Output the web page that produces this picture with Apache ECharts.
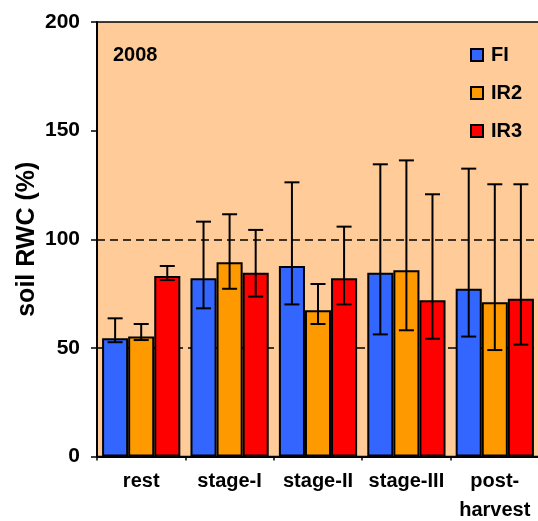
<!DOCTYPE html>
<html>
<head>
<meta charset="utf-8">
<script src="https://cdn.jsdelivr.net/npm/echarts@6/dist/echarts.min.js"></script>
<style>
html,body{margin:0;padding:0;background:#fff;}
#c{width:538px;height:521px;}
</style>
</head>
<body>
<div id="c"></div>
<script>
var categories = ['rest', 'stage-I', 'stage-II', 'stage-III', 'post-\nharvest'];
var seriesNames = ['FI', 'IR2', 'IR3'];
var FI = [54.4, 82.0, 87.7, 84.6, 77.2];
var IR2 = [55.2, 89.4, 67.3, 85.7, 71.0];
var IR3 = [83.1, 84.6, 82.0, 71.9, 72.6];
var FI_upper = [63.6, 108.1, 126.2, 134.5, 132.5];
var FI_lower = [52.6, 68.2, 70.0, 56.2, 55.2];
var IR2_upper = [61.0, 111.5, 79.4, 136.3, 125.3];
var IR2_lower = [53.6, 77.2, 61.0, 58.1, 49.0];
var IR3_upper = [87.7, 104.3, 105.8, 120.7, 125.3];
var IR3_lower = [81.2, 73.6, 70.0, 54.2, 51.5];
var refLines = [50, 100];
var yTicks = [0, 50, 100, 150, 200];
var yearLabel = '2008';

var colors = ['#3366FF', '#FF9900', '#FF0000'];
var values = [FI, IR2, IR3];
var uppers = [FI_upper, IR2_upper, IR3_upper];
var lowers = [FI_lower, IR2_lower, IR3_lower];
var BAR_FRAC = 0.295;
var FONT = 'Liberation Sans, Arial, sans-serif';

var chart = echarts.init(document.getElementById('c'));
var series = [];
seriesNames.forEach(function (name, i) {
  series.push({
    name: name,
    type: 'bar',
    data: values[i],
    barWidth: (BAR_FRAC * 100) + '%',
    barGap: '0%',
    z: 2,
    itemStyle: { color: colors[i], borderColor: '#000', borderWidth: 2 },
    markLine: i === 0 ? {
      silent: true,
      z: 1,
      symbol: 'none',
      label: { show: false },
      lineStyle: { color: '#000', type: [8, 5], width: 1.5 },
      data: refLines.map(function (v) { return { yAxis: v }; })
    } : undefined
  });
});
seriesNames.forEach(function (name, i) {
  series.push({
    type: 'custom',
    z: 3,
    silent: true,
    data: categories.map(function (c, k) { return [k, lowers[i][k], uppers[i][k]]; }),
    renderItem: function (params, api) {
      var band = api.size([1, 0])[0];
      var off = (i - 1) * band * BAR_FRAC;
      var lo = api.coord([api.value(0), api.value(1)]);
      var hi = api.coord([api.value(0), api.value(2)]);
      var x = lo[0] + off;
      var hw = 7.5;
      var st = { stroke: '#000', lineWidth: 2 };
      return {
        type: 'group',
        children: [
          { type: 'line', shape: { x1: x, y1: lo[1], x2: x, y2: hi[1] }, style: st },
          { type: 'line', shape: { x1: x - hw, y1: hi[1], x2: x + hw, y2: hi[1] }, style: st },
          { type: 'line', shape: { x1: x - hw, y1: lo[1], x2: x + hw, y2: lo[1] }, style: st }
        ]
      };
    },
    encode: { x: 0, y: [1, 2] }
  });
});

chart.setOption({
  animation: false,
  textStyle: { fontFamily: FONT },
  grid: {
    left: 97, top: 22, right: -1, bottom: 64.5,
    outerBoundsMode: 'none',
    containLabel: false,
    show: true, backgroundColor: '#FFCC99', borderColor: '#000', borderWidth: 1.5
  },
  legend: {
    orient: 'vertical',
    left: 465, top: 40,
    itemWidth: 12, itemHeight: 12, itemGap: 18,
    icon: 'rect',
    data: seriesNames,
    textStyle: { fontFamily: FONT, fontWeight: 'bold', fontSize: 20, color: '#000', padding: [0, 0, 0, 3] }
  },
  graphic: [{
    type: 'text', left: 113, top: 45,
    style: { text: yearLabel, font: 'bold 20px ' + FONT, fill: '#000' }
  }],
  xAxis: {
    type: 'category',
    data: categories,
    axisLine: { lineStyle: { color: '#000', width: 2 } },
    axisTick: { show: true, length: 4, lineStyle: { color: '#000', width: 1.5 } },
    axisLabel: { color: '#000', fontWeight: 'bold', fontSize: 20, fontFamily: FONT, margin: 10, lineHeight: 29, interval: 0 }
  },
  yAxis: {
    type: 'value',
    min: yTicks[0], max: yTicks[yTicks.length - 1], interval: 50,
    name: 'soil RWC (%)',
    nameLocation: 'middle',
    nameGap: 57,
    nameMoveOverlap: false,
    nameTextStyle: { color: '#000', fontWeight: 'bold', fontSize: 25, fontFamily: FONT },
    axisLine: { show: true, lineStyle: { color: '#000', width: 2 } },
    axisTick: { show: true, length: 6, lineStyle: { color: '#000', width: 1.5 } },
    splitLine: { show: false },
    axisLabel: { color: '#000', fontWeight: 'bold', fontSize: 21, fontFamily: FONT, margin: 17 }
  },
  series: series
});
</script>
</body>
</html>
